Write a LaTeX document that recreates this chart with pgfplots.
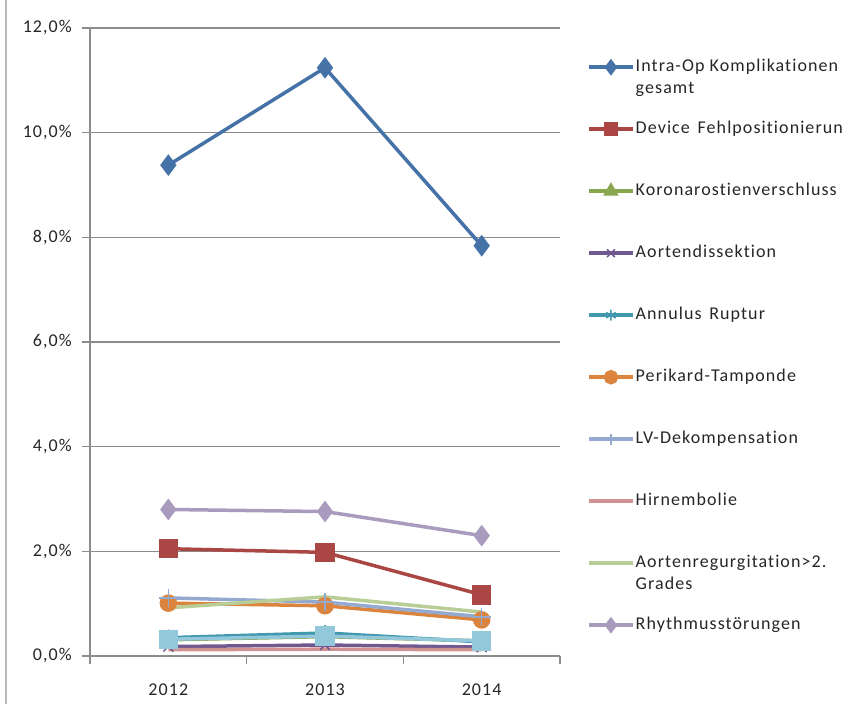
\documentclass[border=0pt]{standalone}
\usepackage{fontspec}
\setmainfont{Carlito}[LetterSpace=6, RawFeature=-liga, WordSpace=1.5]
\usepackage{pgfplots}
\pgfplotsset{compat=1.18}
\definecolor{gridgray}{HTML}{8C8C8C}
\definecolor{cA}{HTML}{4572A7}
\definecolor{cB}{HTML}{AA4643}
\definecolor{cC}{HTML}{89A54E}
\definecolor{cD}{HTML}{71588F}
\definecolor{cE}{HTML}{4198AF}
\definecolor{cF}{HTML}{DB843D}
\definecolor{cG}{HTML}{93A9CF}
\definecolor{cH}{HTML}{D19392}
\definecolor{cI}{HTML}{B9CD96}
\definecolor{cJ}{HTML}{A99BBD}
\definecolor{cK}{HTML}{92C8DA}
\begin{document}
\fontsize{18pt}{22pt}\selectfont
\begin{tikzpicture}
\path[use as bounding box] (-90pt,-48pt) rectangle (752pt,656pt);
\draw[gray!55, line width=2.5pt] (-84pt,-48pt) -- (-84pt,656pt);
\begin{axis}[
  at={(0pt,0pt)}, anchor=south west,
  scale only axis, width=470pt, height=628pt,
  xmin=0.5, xmax=3.5, ymin=0, ymax=12,
  axis lines*=left,
  axis line style={draw=gridgray, line width=1.2pt},
  xtick={0.5,1.5,2.5,3.5}, xticklabels={},
  extra x ticks={1,2,3}, extra x tick labels={2012,2013,2014},
  extra x tick style={major tick length=0pt, grid=none},
  xticklabel style={yshift=-22pt},
  ytick={0,2,4,6,8,10,12},
  yticklabels={{0,0\%},{2,0\%},{4,0\%},{6,0\%},{8,0\%},{10,0\%},{12,0\%}},
  yticklabel style={xshift=-4pt},
  ymajorgrids, grid style={draw=gridgray, line width=1.2pt},
  tick style={draw=gridgray, line width=1.2pt},
  major tick length=8pt, tick align=outside,
  ticklabel style={font=\fontsize{18pt}{20pt}\selectfont, text=black!85},
  /pgf/number format/assume math mode=true,
  legend cell align=left,
  legend style={at={(1,1)}, anchor=north west, xshift=24pt, yshift=-23pt,
    draw=none, fill=none, row sep=36pt, inner sep=3pt,
    font=\fontsize{18pt}{22pt}\selectfont, text=black!85,
    nodes={inner xsep=1pt, inner ysep=4pt, text height=13pt, text depth=5pt}},
  legend image code/.code={\draw[mark repeat=2,mark phase=2, mark size=5.5pt] plot coordinates {(0pt,0pt) (22pt,0pt) (44pt,0pt)};},
]
\addplot[cA, line width=3.5pt, mark=diamond*, mark size=8pt, mark options={solid}] coordinates {(1,9.38) (2,11.24) (3,7.84)};
\addlegendentry{\parbox[t]{200pt}{Intra-Op Komplikationen\\gesamt}}
\addplot[cB, line width=3.5pt, mark=square*, mark size=8pt, mark options={solid}] coordinates {(1,2.05) (2,1.98) (3,1.17)};
\addlegendentry{Device Fehlpositionierun}
\addplot[cC, line width=3.5pt, mark=triangle*, mark size=7pt, mark options={solid}] coordinates {(1,0.31) (2,0.37) (3,0.29)};
\addlegendentry{Koronarostienverschluss}
\addplot[cD, line width=3.5pt, mark=x, mark size=7pt, mark options={solid, line width=1.5pt}] coordinates {(1,0.18) (2,0.21) (3,0.17)};
\addlegendentry{Aortendissektion}
\addplot[cE, line width=3.5pt, mark=asterisk, mark size=8pt, mark options={solid, line width=1.5pt}] coordinates {(1,0.35) (2,0.44) (3,0.27)};
\addlegendentry{Annulus Ruptur}
\addplot[cF, line width=3.5pt, mark=*, mark size=7pt, mark options={solid}] coordinates {(1,1.01) (2,0.96) (3,0.69)};
\addlegendentry{Perikard-Tamponde}
\addplot[cG, line width=3.5pt, mark=+, mark size=9pt, mark options={solid, line width=1.5pt}] coordinates {(1,1.11) (2,1.03) (3,0.75)};
\addlegendentry{LV-Dekompensation}
\addplot[cH, line width=3.5pt] coordinates {(1,0.12) (2,0.13) (3,0.12)};
\addlegendentry{Hirnembolie}
\addplot[cI, line width=3.5pt] coordinates {(1,0.92) (2,1.13) (3,0.84)};
\addlegendentry{\parbox[t]{200pt}{Aortenregurgitation>2.\\Grades}}
\addplot[cJ, line width=3.5pt, mark=diamond*, mark size=8pt, mark options={solid}] coordinates {(1,2.80) (2,2.76) (3,2.30)};
\addlegendentry{Rhythmusstörungen}
\addplot[cK, line width=3.5pt, mark=square*, mark size=8pt, mark options={solid}, forget plot] coordinates {(1,0.32) (2,0.38) (3,0.29)};
\end{axis}
\end{tikzpicture}
\end{document}
